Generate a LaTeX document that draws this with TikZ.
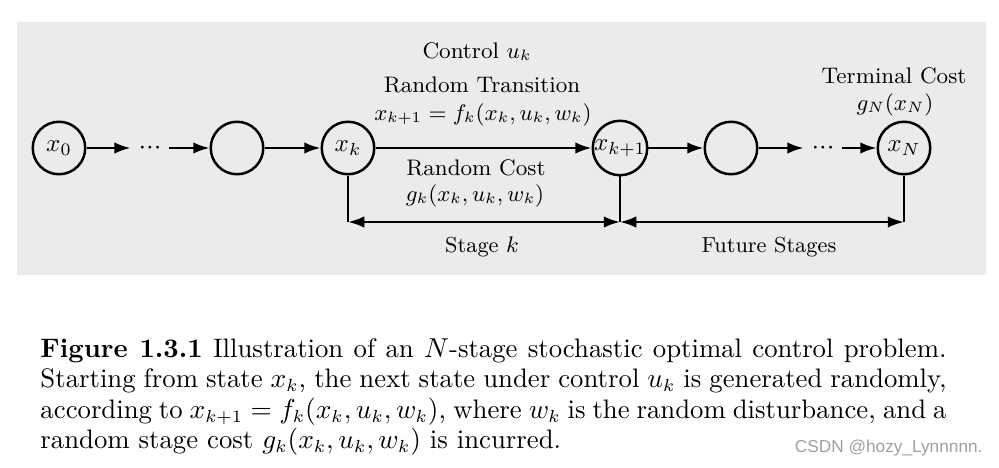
\documentclass[tikz,border=0pt]{standalone}
\usepackage{fontspec}
\usetikzlibrary{arrows.meta}
\newfontfamily\wmfont{Liberation Sans}
\definecolor{bggray}{RGB}{236,234,237}
\definecolor{wmgray}{RGB}{160,160,160}
\begin{document}
\begin{tikzpicture}[x=0.4pt,y=-0.4pt,
  state/.style={circle,draw,line width=1pt,minimum size=21pt,inner sep=0pt,font=\fontsize{10}{12}\selectfont},
  dotsnode/.style={inner sep=3pt,font=\fontsize{11}{12}\selectfont},
  lbl/.style={anchor=base,inner sep=0pt,font=\fontsize{9}{11}\selectfont},
  lblsmall/.style={anchor=base,inner sep=0pt,font=\fontsize{8.7}{10}\selectfont},
  conn/.style={line width=0.95pt,-{Latex[length=6.5pt,width=4.6pt]}},
  dim/.style={line width=0.95pt,{Latex[length=6.5pt,width=4.6pt]}-{Latex[length=6.5pt,width=4.6pt]}},
  vline/.style={line width=0.55pt}]
\useasboundingbox (0,0) rectangle (999,467);
\fill[bggray] (17,22) rectangle (986,275);

% states
\node[state] (x0) at (59,148) {$x_0$};
\node[dotsnode] (d1) at (150,148) {${\cdot}{\cdot}{\cdot}$};
\node[state] (c1) at (237,148) {};
\node[state] (xk) at (348,148) {$x_k$};
\node[state] (xk1) at (620,148) {$x_{k+1}$};
\node[state] (c2) at (731,148) {};
\node[dotsnode] (d2) at (823,148) {${\cdot}{\cdot}{\cdot}$};
\node[state] (xN) at (904,148) {$x_N$};

\draw[conn] (x0) -- (d1);
\draw[conn] (d1) -- (c1);
\draw[conn] (c1) -- (xk);
\draw[conn] (xk) -- (xk1);
\draw[conn] (xk1) -- (c2);
\draw[conn] (c2) -- (d2);
\draw[conn] (d2) -- (xN);

% stage markers
\coordinate (sk) at (348,222);
\coordinate (sk1) at (620,222);
\coordinate (sN) at (904,222);
\draw[vline] (xk) -- (sk);
\draw[vline] (xk1) -- (sk1);
\draw[vline] (xN) -- (sN);
\draw[dim] (sk) -- (sk1);
\draw[dim] (sk1) -- (sN);

% labels
\node[lbl] (lc) at (477,58) {Control $u_k$};
\node[lbl] (lrt) at (482,92) {Random Transition};
\node[lbl] (lf) at (483,120) {$x_{k+1}=f_k(x_k,u_k,w_k)$};
\node[lbl] (lrc) at (476,175) {Random Cost};
\node[lbl] (lg) at (475,201) {$g_k(x_k,u_k,w_k)$};
\node[lblsmall] (ls) at (482,252) {Stage $k$};
\node[lblsmall] (lfs) at (769,252) {Future Stages};
\node[lbl] (ltc) at (894,83) {Terminal Cost};
\node[lbl] (lgn) at (895,110) {$g_N(x_N)$};

% caption
\node[anchor=north west,inner sep=0pt,text width=362.4pt,align=justify,
      font=\fontsize{10.7}{12.2}\selectfont] (cap) at (40,338)
{\textbf{Figure 1.3.1} Illustration of an $N$-stage stochastic optimal control problem.\linebreak
Starting from state $x_k$, the next state under control $u_k$ is generated randomly,\linebreak
according to $x_{k+1}=f_k(x_k,u_k,w_k)$, where $w_k$ is the random disturbance, and a\linebreak
random stage cost $g_k(x_k,u_k,w_k)$ is incurred.};

\node[anchor=base east,inner sep=0pt,text=wmgray,font=\wmfont\fontsize{6.9}{8}\selectfont] (wm) at (983,452) {CSDN @hozy\_Lynnnnn.};
\end{tikzpicture}
\end{document}
